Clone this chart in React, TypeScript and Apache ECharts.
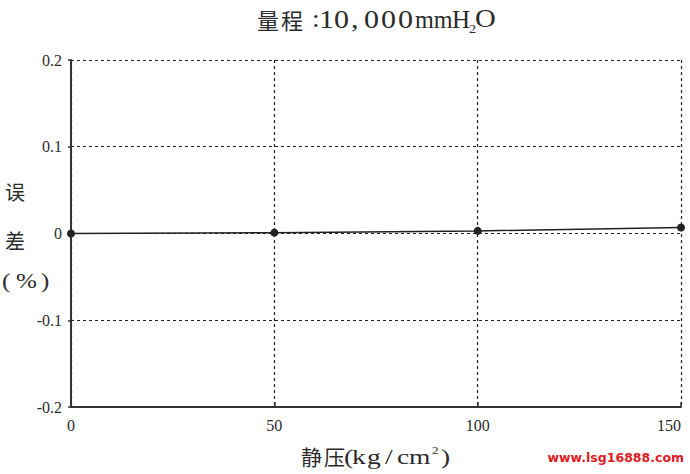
import React, { useEffect, useRef } from "react";
import * as echarts from "echarts";

const pressures = [0, 50, 100, 150];
const errors = [0, 0.001, 0.003, 0.007];
const xTicks = [0, 50, 100, 150];
const yTicks = [-0.2, -0.1, 0, 0.1, 0.2];

const SERIF = "'Liberation Serif', 'DejaVu Serif', serif";
const CJK = "'Noto Sans CJK SC', sans-serif";
const INK = "#2b2b2b";

type Piece = [string, number, number, number, string, number]; // text, x, y(middle), size, family, scaleX

const titlePieces: Piece[] = [
  ["量", 257, 19, 22, CJK, 1],
  ["程", 281, 19, 22, CJK, 1],
  [":", 312, 19, 25, SERIF, 1.1],
  ["1", 319, 19, 25, SERIF, 1.2],
  ["0", 334, 19, 25, SERIF, 1.2],
  [",", 351, 19, 25, SERIF, 1.2],
  ["0", 364, 19, 25, SERIF, 1.2],
  ["0", 381, 19, 25, SERIF, 1.2],
  ["0", 398, 19, 25, SERIF, 1.2],
  ["mm", 415, 19, 25, SERIF, 0.97],
  ["H", 452, 19, 25, SERIF, 1.0],
  ["2", 469, 29, 13, SERIF, 1.1],
  ["O", 475, 19, 25, SERIF, 1.15],
];

const xNamePieces: Piece[] = [
  ["静", 301, 456, 21, CJK, 1],
  ["压", 324, 456, 21, CJK, 1],
  ["(", 344, 456, 22, SERIF, 1.25],
  ["k", 352, 456, 22, SERIF, 1.25],
  ["g", 367, 456, 22, SERIF, 1.25],
  ["/", 385, 456, 22, SERIF, 1.25],
  ["c", 397, 456, 22, SERIF, 1.25],
  ["m", 409, 456, 22, SERIF, 1.25],
  ["2", 432, 450, 11, SERIF, 1.2],
  [")", 441, 456, 22, SERIF, 1.25],
];

const yNamePieces: Piece[] = [
  ["误", 5, 191, 20, CJK, 1],
  ["差", 5, 240, 20, CJK, 1],
  ["(", 2, 281, 20, SERIF, 1.25],
  ["%", 16, 281, 20, SERIF, 1.25],
  [")", 41, 281, 20, SERIF, 1.25],
];

function toGraphic(pieces: Piece[]) {
  return pieces.map(([t, x, y, s, f, sx]) => ({
    type: "text",
    x,
    y,
    scaleX: sx,
    style: {
      text: t,
      font: `${s}px ${f}`,
      fill: INK,
      align: "left",
      verticalAlign: "middle",
    },
  }));
}

export default function App() {
  const ref = useRef<HTMLDivElement>(null);
  useEffect(() => {
    if (!ref.current) return;
    const chart = echarts.init(ref.current, undefined, { renderer: "svg" });
    chart.setOption({
      animation: false,
      backgroundColor: "#fff",
      grid: { left: 71, width: 610, top: 60, height: 347, containLabel: false },
      xAxis: {
        type: "value",
        min: xTicks[0],
        max: xTicks[xTicks.length - 1],
        interval: 50,
        axisLine: { show: true, onZero: false, lineStyle: { color: "#333", width: 2 } },
        axisTick: { show: true, inside: true, length: 5, lineStyle: { color: "#333", width: 1.5 } },
        axisLabel: { fontFamily: SERIF, fontSize: 16, color: INK, margin: 10, alignMaxLabel: "right" },
        splitLine: { show: true, lineStyle: { color: "#222", type: [3, 3], width: 1.2 } },
      },
      yAxis: {
        type: "value",
        min: yTicks[0],
        max: yTicks[yTicks.length - 1],
        interval: 0.1,
        axisLine: { show: true, onZero: false, lineStyle: { color: "#333", width: 2 } },
        axisTick: { show: true, inside: false, length: 3, lineStyle: { color: "#333", width: 1.5 } },
        axisLabel: { fontFamily: SERIF, fontSize: 16, color: INK, margin: 9 },
        splitLine: { show: true, lineStyle: { color: "#222", type: [3, 3], width: 1.2 } },
      },
      graphic: [
        ...toGraphic(titlePieces),
        ...toGraphic(xNamePieces),
        ...toGraphic(yNamePieces),
        {
          type: "text",
          x: 684,
          y: 457,
          style: {
            text: "www.lsg16888.com",
            font: "bold 12.5px 'DejaVu Sans', sans-serif",
            fill: "#e01b24",
            align: "right",
            verticalAlign: "middle",
          },
        },
      ],
      series: [
        {
          type: "line",
          data: pressures.map((p, i) => [p, errors[i]]),
          symbol: "circle",
          symbolSize: 8,
          lineStyle: { color: "#222", width: 1.5 },
          itemStyle: { color: "#222" },
          z: 5,
        },
      ],
    });
    return () => chart.dispose();
  }, []);
  return <div ref={ref} style={{ width: 690, height: 474, position: "absolute", left: 0, top: 0 }} />;
}
